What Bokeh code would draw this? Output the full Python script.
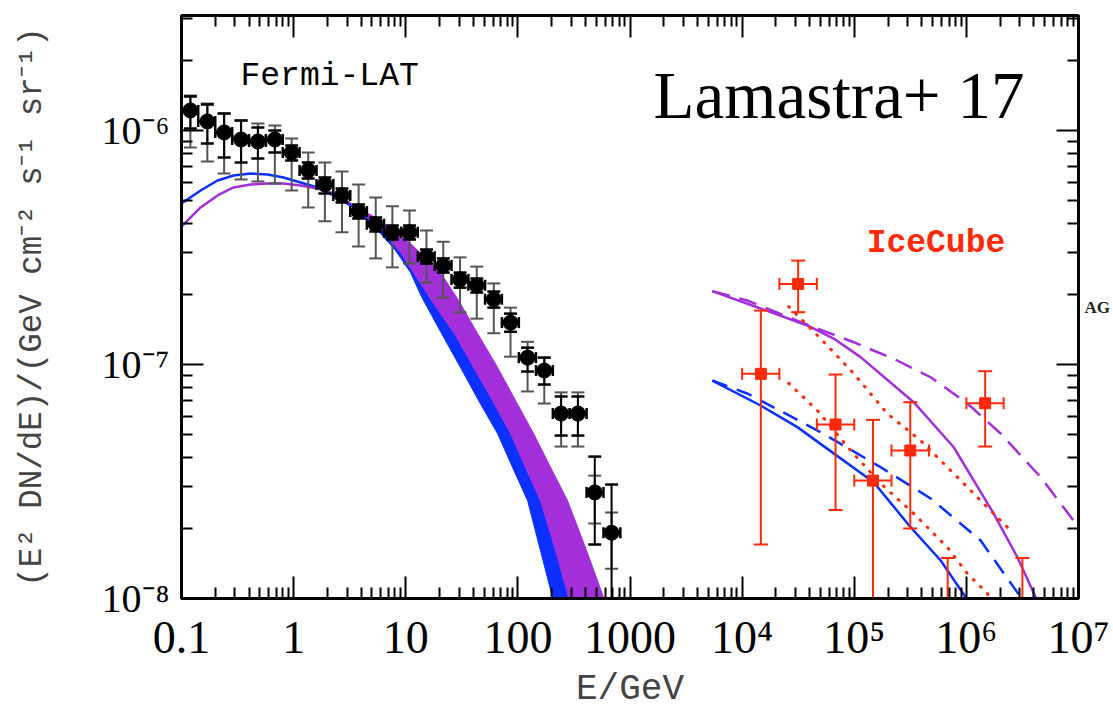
import math
from bokeh.plotting import figure
from bokeh.models import Range1d, FixedTicker, LogAxis, Label
from bokeh.embed import file_html
from bokeh.resources import INLINE

UNIT = 1e-6  # flux arrays below are in units of 1e-6 GeV cm^-2 s^-1 sr^-1

# ---------------- Fermi-LAT isotropic gamma-ray background ----------------
fermi_E = [0.12, 0.17, 0.24, 0.34, 0.48, 0.68, 0.96, 1.35, 1.9, 2.7, 3.8, 5.4, 7.6,
           10.8, 15.3, 21.6, 30.5, 43, 61, 86, 122, 172, 243, 343, 485, 685]
fermi_edges = [0.1, 0.141, 0.2, 0.283, 0.4, 0.566, 0.8, 1.13, 1.6, 2.26, 3.2, 4.5, 6.4,
               9.1, 12.8, 18.1, 25.6, 36.2, 51, 72, 102, 145, 205, 290, 410, 580, 820]
fermi_F = [1.218, 1.093, 0.981, 0.915, 0.897, 0.915, 0.805, 0.675, 0.588, 0.528, 0.451,
           0.397, 0.367, 0.367, 0.289, 0.265, 0.231, 0.218, 0.190, 0.151, 0.107, 0.0942,
           0.0617, 0.0617, 0.0284, 0.0191]
fermi_stat_lo = [1.020, 0.880, 0.767, 0.730, 0.759, 0.805, 0.744, 0.624, 0.538, 0.492, 0.421,
                 0.370, 0.342, 0.342, 0.270, 0.247, 0.213, 0.203, 0.175, 0.138, 0.0933, 0.0821,
                 0.0497, 0.0497, 0.0170, 0.005]
fermi_stat_hi = [1.397, 1.291, 1.182, 1.104, 1.030, 1.000, 0.863, 0.730, 0.630, 0.565, 0.483,
                 0.425, 0.393, 0.393, 0.310, 0.284, 0.247, 0.233, 0.205, 0.165, 0.118, 0.107,
                 0.0730, 0.0730, 0.0404, 0.0307]
fermi_sys_lo = [0.846, 0.737, 0.655, 0.618, 0.605, 0.594, 0.554, 0.469, 0.409, 0.367, 0.319,
                0.284, 0.260, 0.270, 0.224, 0.193, 0.167, 0.157, 0.136, 0.108, 0.0767, 0.0681,
                0.0446, 0.0446, 0.0209, 0.0134]
fermi_sys_hi = [1.411, 1.304, 1.182, 1.104, 1.071, 1.050, 0.924, 0.805, 0.730, 0.668, 0.588,
                0.517, 0.474, 0.455, 0.374, 0.335, 0.287, 0.262, 0.222, 0.175, 0.125, 0.107,
                0.0760, 0.0760, 0.0335, 0.0233]

# ---------------- gamma-ray model: low-energy curves ----------------
gam_blue_E = [0.1, 0.148, 0.2096, 0.291, 0.4125, 0.585, 0.813, 1.152, 1.634, 2.27, 3.22]
gam_blue_F = [0.4876, 0.554, 0.6113, 0.6422, 0.6552, 0.6486, 0.630, 0.5995, 0.5707, 0.5275, 0.4781]
gam_purple_E = [0.1, 0.148, 0.2096, 0.291, 0.4125, 0.585, 0.813, 1.152, 1.634, 2.27, 3.22]
gam_purple_F = [0.3888, 0.4688, 0.5275, 0.5707, 0.5878, 0.5936, 0.5936, 0.5821, 0.5651, 0.5379, 0.4876]

# ---------------- gamma-ray model: high-energy bands ----------------
band_low_E = [3.22, 4.20, 5.96, 8.11, 11.03, 13.8, 20.4, 30.8, 44.6, 65.9, 89.7, 122, 159, 204, 225]
band_low_F = [0.4781, 0.4249, 0.3629, 0.307, 0.2472, 0.1952, 0.1384, 0.0971, 0.0702, 0.0507,
              0.0363, 0.02623, 0.01603, 0.0101, 0.0075]
band_mid_E = [3.22, 5.96, 8.99, 17.0, 27.8, 40.3, 59.4, 86.1, 117, 159, 217, 283, 310]
band_mid_F = [0.4876, 0.3813, 0.301, 0.1877, 0.133, 0.0971, 0.0702, 0.0507, 0.0363, 0.02623,
              0.01603, 0.0101, 0.0075]
band_top_E = [3.22, 5.96, 11.03, 20.4, 29.6, 43.7, 65.9, 95.3, 138, 196, 277, 410, 581, 700]
band_top_F = [0.4876, 0.4124, 0.3289, 0.2472, 0.1877, 0.1357, 0.0971, 0.0702, 0.0507, 0.0363,
              0.02623, 0.01603, 0.0101, 0.00805]

# ---------------- neutrino models ----------------
nu_purple_E = [5420, 14600, 38200, 65500, 1.14e5, 3.39e5, 7.71e5, 1.75e6, 2.85e6, 4.15e6, 5.09e6]
nu_purple_F = [0.2057, 0.1735, 0.1468, 0.1291, 0.1075, 0.0690, 0.0443, 0.02307, 0.01502, 0.01013, 0.00805]
nu_purple_dash_E = [5420, 1.11e4, 3.33e4, 9.88e4, 2.42e5, 4.80e5, 1.02e6, 2.02e6, 4.60e6, 1.0e7, 1.29e7]
nu_purple_dash_F = [0.2057, 0.1877, 0.1517, 0.1245, 0.1040, 0.0882, 0.0681, 0.0507, 0.0330, 0.02017, 0.0177]
nu_blue_E = [5420, 14600, 3.11e4, 6.55e4, 1.49e5, 3.18e5, 5.90e5, 9.86e5, 1.21e6]
nu_blue_F = [0.0854, 0.0668, 0.0540, 0.0417, 0.0314, 0.02017, 0.01453, 0.01013, 0.00805]
nu_blue_dash_E = [5420, 1.11e4, 5.01e4, 1.72e5, 4.80e5, 1.34e6, 3.05e6, 3.6e6]
nu_blue_dash_F = [0.0854, 0.0752, 0.0514, 0.0364, 0.02676, 0.0177, 0.01013, 0.00805]
nu_dot_hi_E = [2.60e4, 5.01e4, 9.88e4, 1.97e5, 3.91e5, 7.71e5, 1.34e6, 2.48e6]
nu_dot_hi_F = [0.1769, 0.1291, 0.0915, 0.0617, 0.0473, 0.0342, 0.02623, 0.01952]
nu_dot_lo_E = [2.60e4, 4.69e4, 9.29e4, 1.72e5, 3.39e5, 6.76e5, 1.02e6, 1.54e6, 1.82e6]
nu_dot_lo_F = [0.0832, 0.0636, 0.0429, 0.0310, 0.02307, 0.01656, 0.01279, 0.01050, 0.00845]

# ---------------- IceCube neutrino flux ----------------
ice_E = [1.47e4, 3.16e4, 6.81e4, 1.47e5, 3.16e5, 6.81e5, 1.47e6, 3.16e6]
ice_edges = [1e4, 2.15e4, 4.64e4, 1e5, 2.15e5, 4.64e5, 1e6, 2.15e6, 4.64e6]
ice_F = [0.0912, 0.221, 0.0554, 0.0319, 0.0429, 0.006, 0.0683, 0.006]
ice_lo = [0.0170, 0.1673, 0.0239, 0.005, 0.0199, 0.001, 0.0446, 0.001]
ice_hi = [0.170, 0.278, 0.0906, 0.0580, 0.0690, 0.0149, 0.0936, 0.0149]

x_tick_labels = {0.1: "0.1", 1: "1", 10: "10", 100: "100", 1000: "1000",
                 1e4: "10⁴", 1e5: "10⁵", 1e6: "10⁶", 1e7: "10⁷"}
y_tick_labels = {1e-8: "10⁻⁸", 1e-7: "10⁻⁷", 1e-6: "10⁻⁶"}

BLUE = "#0b30ff"
PURPLE = "#a22fd9"
RED = "#ff2a0a"
GREY = "#555555"
MONO = "Liberation Mono"
SERIF = "Liberation Serif"


def u(vals):
    return [v * UNIT for v in vals]


p = figure(width=1113, height=716, x_axis_type="log", y_axis_type="log",
           x_range=Range1d(0.1, 1e7), y_range=Range1d(1e-8, 3.1e-6),
           output_backend="svg", toolbar_location=None,
           min_border_left=181, min_border_right=34, min_border_top=15, min_border_bottom=118)
p.grid.visible = False
p.outline_line_color = "black"
p.outline_line_width = 3
p.background_fill_color = "white"
p.border_fill_color = "white"

x_major = list(x_tick_labels.keys())
x_minor = [m * 10.0 ** k for k in range(-1, 7) for m in range(2, 10)]
y_major = list(y_tick_labels.keys())
y_minor = [m * 10.0 ** k for k in range(-8, -5) for m in range(2, 10)]


def style_axis(ax, ticks, minors):
    ax.ticker = FixedTicker(ticks=ticks, minor_ticks=minors)
    ax.axis_line_width = 3
    ax.axis_line_color = "black"
    ax.major_tick_in = 22
    ax.major_tick_out = 0
    ax.minor_tick_in = 11
    ax.minor_tick_out = 0
    ax.major_tick_line_width = 2
    ax.minor_tick_line_width = 2


xb = p.xaxis[0]
style_axis(xb, x_major, x_minor)
xb.major_label_overrides = x_tick_labels
xb.major_label_text_font = SERIF
xb.major_label_text_font_size = "46px"
xb.major_label_text_color = "black"
xb.major_label_standoff = 13
xb.axis_label = "E/GeV"
xb.axis_label_text_font = MONO
xb.axis_label_text_font_style = "normal"
xb.axis_label_text_font_size = "36px"
xb.axis_label_standoff = 3

yl = p.yaxis[0]
style_axis(yl, y_major, y_minor)
yl.major_label_overrides = y_tick_labels
yl.major_label_text_font = SERIF
yl.major_label_text_font_size = "40px"
yl.major_label_text_color = "black"
yl.major_label_standoff = 12
yl.axis_label = "(E² DN/dE)/(GeV cm⁻² s⁻¹ sr⁻¹)"
yl.axis_label_text_font = MONO
yl.axis_label_text_font_style = "normal"
yl.axis_label_text_font_size = "32.5px"
yl.axis_label_standoff = 48

top_axis = LogAxis()
style_axis(top_axis, x_major, x_minor)
top_axis.major_label_text_font_size = "1px"
top_axis.major_label_text_alpha = 0
top_axis.major_label_standoff = 0
p.add_layout(top_axis, "above")

# right-hand frame side; its label is the partly visible panel caption
right_axis = LogAxis()
style_axis(right_axis, y_major, y_minor)
right_axis.major_label_text_font_size = "1px"
right_axis.major_label_text_alpha = 0
right_axis.major_label_standoff = 0
right_axis.axis_label = "AG"
right_axis.axis_label_orientation = "horizontal"
right_axis.axis_label_text_font = SERIF
right_axis.axis_label_text_font_style = "bold"
right_axis.axis_label_text_font_size = "17px"
right_axis.axis_label_text_color = "#222222"
right_axis.axis_label_standoff = 6
p.add_layout(right_axis, "right")

# gamma-ray model bands
p.patch(band_low_E + band_mid_E[::-1], u(band_low_F + band_mid_F[::-1]),
        fill_color=BLUE, line_color=BLUE, line_width=1)
p.patch(band_mid_E + band_top_E[::-1], u(band_mid_F + band_top_F[::-1]),
        fill_color=PURPLE, line_color=PURPLE, line_width=1)
p.line(gam_blue_E, u(gam_blue_F), line_color=BLUE, line_width=2.5)
p.line(gam_purple_E, u(gam_purple_F), line_color=PURPLE, line_width=2.5)

# neutrino models
p.line(nu_purple_E, u(nu_purple_F), line_color=PURPLE, line_width=2.5)
p.line(nu_purple_dash_E, u(nu_purple_dash_F), line_color=PURPLE, line_width=2.5, line_dash="18 10")
p.line(nu_blue_E, u(nu_blue_F), line_color=BLUE, line_width=2.5)
p.line(nu_blue_dash_E, u(nu_blue_dash_F), line_color=BLUE, line_width=2.5, line_dash="16 10")
p.line(nu_dot_hi_E, u(nu_dot_hi_F), line_color=RED, line_width=3, line_dash="1 9", line_cap="round")
p.line(nu_dot_lo_E, u(nu_dot_lo_F), line_color=RED, line_width=3, line_dash="1 9", line_cap="round")

# Fermi-LAT points: systematic (grey), statistical (black), bin widths, markers
f_lo_edge = fermi_edges[:-1]
f_hi_edge = fermi_edges[1:]
p.segment(fermi_E, u(fermi_sys_lo), fermi_E, u(fermi_sys_hi), line_color=GREY, line_width=2)
p.scatter(fermi_E + fermi_E, u(fermi_sys_lo + fermi_sys_hi), marker="dash", size=13,
          line_color=GREY, line_width=2)
p.segment(fermi_E, u(fermi_stat_lo), fermi_E, u(fermi_stat_hi), line_color="black", line_width=2)
p.scatter(fermi_E + fermi_E, u(fermi_stat_lo + fermi_stat_hi), marker="dash", size=13,
          line_color="black", line_width=2.5)
p.segment(f_lo_edge, u(fermi_F), f_hi_edge, u(fermi_F), line_color="black", line_width=2.5)
p.scatter(f_lo_edge + f_hi_edge, u(fermi_F + fermi_F), marker="dash", angle=math.pi / 2,
          size=11, line_color="black", line_width=2.5)
p.scatter(fermi_E, u(fermi_F), marker="circle", size=15, fill_color="black", line_color="black")

# IceCube points
i_lo_edge = ice_edges[:-1]
i_hi_edge = ice_edges[1:]
p.segment(ice_E, u(ice_lo), ice_E, u(ice_hi), line_color=RED, line_width=2)
p.scatter(ice_E + ice_E, u(ice_lo + ice_hi), marker="dash", size=14, line_color=RED, line_width=2)
p.segment(i_lo_edge, u(ice_F), i_hi_edge, u(ice_F), line_color=RED, line_width=2)
p.scatter(i_lo_edge + i_hi_edge, u(ice_F + ice_F), marker="dash", angle=math.pi / 2,
          size=12, line_color=RED, line_width=2)
p.scatter(ice_E, u(ice_F), marker="square", size=11, fill_color=RED, line_color=RED)

# text annotations
p.add_layout(Label(x=0.336, y=1.70e-6, text="Fermi-LAT", text_font=MONO,
                   text_font_size="33px", text_color="black", text_baseline="alphabetic"))
p.add_layout(Label(x=1624, y=1.412e-6, text="Lamastra+ 17", text_font=SERIF,
                   text_font_size="67px", text_color="black", text_baseline="alphabetic"))
p.add_layout(Label(x=1.29e5, y=3.29e-7, text="IceCube", text_font=MONO, text_font_style="bold",
                   text_font_size="33px", text_color=RED, text_baseline="alphabetic"))

open("out.html", "w").write(file_html(p, INLINE))
